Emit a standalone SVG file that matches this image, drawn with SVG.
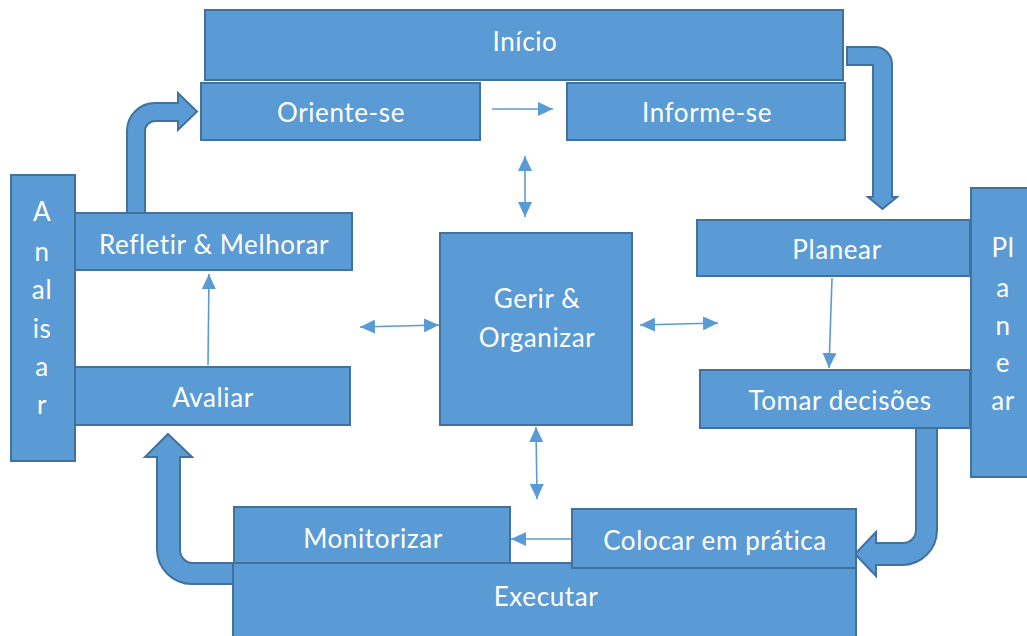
<svg xmlns="http://www.w3.org/2000/svg" width="1027" height="636" viewBox="0 0 1027 636">
<style>
.box{fill:#5B9BD5;stroke:#41719C;stroke-width:2}
.big{fill:#5B9BD5;stroke:#41719C;stroke-width:2;stroke-linejoin:miter}
.t{font-family:Lato,"Liberation Sans",sans-serif;font-size:26px;letter-spacing:0.6px;fill:#ffffff;text-anchor:middle}
.ln{stroke:#5B9BD5;stroke-width:1.6;fill:none}
</style>
<defs>
<marker id="ah" viewBox="0 0 15 14" refX="15" refY="7" markerWidth="15" markerHeight="14" markerUnits="userSpaceOnUse" orient="auto-start-reverse">
<path d="M0,0 L15,7 L0,14 Z" fill="#5B9BD5"/>
</marker>
</defs>
<rect width="1027" height="636" fill="#ffffff"/>
<g id="connectors">
<path class="big" d="M847,47 H875 A17,17 0 0 1 892,64 V197 H897 L882.5,209 L868,197 H873 V65 H847 Z"/>
<path class="big" d="M127,215 V131 A28,28 0 0 1 155,103 H178 V93 L197,111.5 L178,130 V121 H155 A10,10 0 0 0 145,131 V215 Z"/>
<path class="big" d="M168,434 L192,457 H180 V550 A13,13 0 0 0 193,563 H240 V584 H192 A35,35 0 0 1 157,549 V457 H145 Z"/>
<path class="big" d="M916,425 H937 V530 A35,35 0 0 1 902,565 H876 V576 L855,554 L876,532 V543 H903 A13,13 0 0 0 916,530 Z"/>
<line class="ln" x1="492" y1="109" x2="553" y2="109" marker-end="url(#ah)"/>
<line class="ln" x1="525" y1="156" x2="525" y2="217" marker-start="url(#ah)" marker-end="url(#ah)"/>
<line class="ln" x1="360" y1="327" x2="439" y2="325" marker-start="url(#ah)" marker-end="url(#ah)"/>
<line class="ln" x1="640" y1="325" x2="718" y2="323" marker-start="url(#ah)" marker-end="url(#ah)"/>
<line class="ln" x1="536" y1="427" x2="537" y2="499" marker-start="url(#ah)" marker-end="url(#ah)"/>
<line class="ln" x1="572" y1="539" x2="511" y2="539" marker-end="url(#ah)"/>
<line class="ln" x1="208" y1="365" x2="209" y2="274" marker-end="url(#ah)"/>
<line class="ln" x1="832" y1="278" x2="829" y2="368" marker-end="url(#ah)"/>
</g>
<g id="inicio"><rect class="box" x="205" y="10" width="638" height="70"/><text class="t" x="525" y="51">Início</text></g>
<g id="oriente"><rect class="box" x="201" y="83" width="279" height="57"/><text class="t" x="341" y="122">Oriente-se</text></g>
<g id="informe"><rect class="box" x="567" y="83" width="278" height="57"/><text class="t" x="707" y="122">Informe-se</text></g>
<g id="analisar"><rect class="box" x="11" y="175" width="64" height="286"/>
<text class="t" x="42" y="221">A</text><text class="t" x="42" y="261">n</text><text class="t" x="42" y="299">al</text><text class="t" x="42" y="338">is</text><text class="t" x="42" y="376">a</text><text class="t" x="42" y="414">r</text></g>
<g id="refletir"><rect class="box" x="75" y="213" width="277" height="57"/><text class="t" x="214" y="254">Refletir &amp; Melhorar</text></g>
<g id="avaliar"><rect class="box" x="75" y="367" width="275" height="58"/><text class="t" x="213" y="407">Avaliar</text></g>
<g id="gerir"><rect class="box" x="440" y="233" width="192" height="192"/><text class="t" x="537" y="308">Gerir &amp;</text><text class="t" x="537" y="347">Organizar</text></g>
<g id="planear-bar"><rect class="box" x="971" y="188" width="70" height="289"/>
<text class="t" x="1003" y="257">Pl</text><text class="t" x="1003" y="297">a</text><text class="t" x="1003" y="335">n</text><text class="t" x="1003" y="372">e</text><text class="t" x="1003" y="410">ar</text></g>
<g id="planear"><rect class="box" x="697" y="220" width="273" height="56"/><text class="t" x="837" y="259">Planear</text></g>
<g id="tomar"><rect class="box" x="700" y="370" width="270" height="58"/><text class="t" x="840" y="410">Tomar decisões</text></g>
<g id="executar"><rect class="box" x="233" y="563" width="623" height="80"/><text class="t" x="546" y="606">Executar</text></g>
<g id="monitorizar"><rect class="box" x="234" y="507" width="276" height="56"/><text class="t" x="373" y="548">Monitorizar</text></g>
<g id="colocar"><rect class="box" x="572" y="509" width="284" height="59"/><text class="t" x="715" y="550">Colocar em prática</text></g>
</svg>
